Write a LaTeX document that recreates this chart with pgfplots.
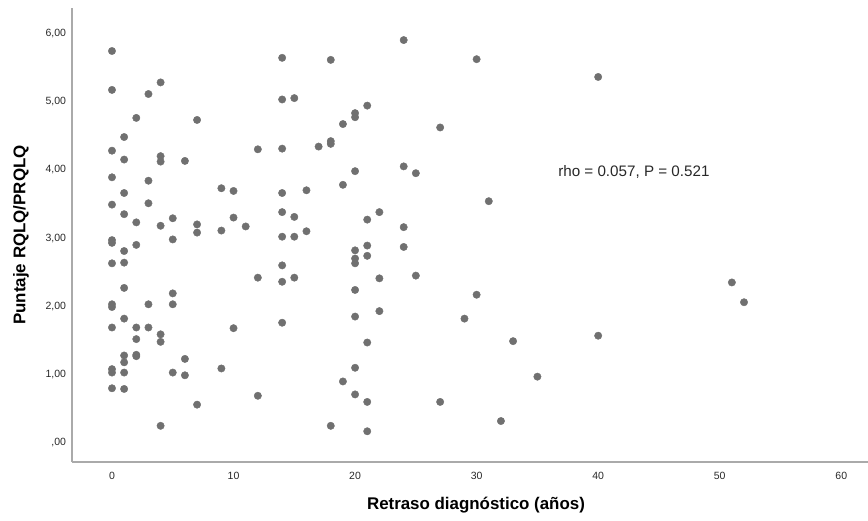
\documentclass[border=0pt]{standalone}
\usepackage{fontspec}
\setmainfont{Liberation Sans}
\usepackage{pgfplots}
\pgfplotsset{compat=1.18}

\definecolor{dotgray}{RGB}{112,112,112}
\definecolor{spinegray}{RGB}{170,170,170}
\definecolor{txtgray}{RGB}{40,40,40}

\begin{document}
\begin{tikzpicture}
\begin{axis}[
    scale only axis,
    width=796pt, height=454pt,
    xmin=-3.29, xmax=62.2,
    ymin=-0.28, ymax=6.37,
    axis x line*=bottom, axis y line*=left,
    axis line style={-, spinegray, line width=1.3pt},
    major tick length=0pt,
    xtick={0,10,20,30,40,50,60},
    ytick={0,1,2,3,4,5,6},
    yticklabels={{,00},{1,00},{2,00},{3,00},{4,00},{5,00},{6,00}},
    /pgf/number format/assume math mode=true,
    tick label style={font=\fontsize{10.5}{12}\selectfont, text=txtgray},
    xticklabel style={yshift=-6.5pt},
    yticklabel style={xshift=-2.5pt},
    xlabel={Retraso diagnóstico (años)},
    ylabel={Puntaje RQLQ/PRQLQ},
    label style={font=\bfseries\fontsize{16.9}{20}\selectfont},
    x label style={at={(axis description cs:0.5075,-0.0947)}, anchor=center},
    y label style={at={(axis description cs:-0.064,0.5)}, anchor=center},
    clip=false,
]
\addplot[only marks, mark=*, mark size=3.7pt, mark options={fill=dotgray, draw=dotgray}] coordinates {
(0,5.74) (0,5.17) (0,4.28) (0,3.89) (0,3.49) (0,2.97) (0,2.93) (0,2.63) (0,2.03) (0,1.99) (0,1.69) (0,1.08) (0,1.03) (0,0.80)
(1,4.48) (1,4.15) (1,3.66) (1,3.35) (1,2.81) (1,2.64) (1,2.27) (1,1.82) (1,1.28) (1,1.18) (1,1.03) (1,0.79)
(2,4.76) (2,3.23) (2,2.90) (2,1.69) (2,1.52) (2,1.29) (2,1.27)
(3,5.11) (3,3.84) (3,3.51) (3,2.03) (3,1.69)
(4,5.28) (4,4.20) (4,4.12) (4,3.18) (4,1.59) (4,1.48) (4,0.25)
(5,3.29) (5,2.98) (5,2.19) (5,2.03) (5,1.03)
(6,4.13) (6,1.23) (6,0.99)
(7,4.73) (7,3.20) (7,3.08) (7,0.56)
(9,3.73) (9,3.11) (9,1.09)
(10,3.69) (10,3.30) (10,1.68)
(11,3.17)
(12,4.30) (12,2.42) (12,0.69)
(14,5.64) (14,5.03) (14,4.31) (14,3.66) (14,3.38) (14,3.02) (14,2.60) (14,2.36) (14,1.76)
(15,5.05) (15,3.31) (15,3.02) (15,2.42)
(16,3.70) (16,3.10)
(17,4.34)
(18,5.61) (18,4.42) (18,4.38) (18,0.25)
(19,4.67) (19,3.78) (19,0.90)
(20,4.83) (20,4.77) (20,3.98) (20,2.82) (20,2.70) (20,2.63) (20,2.24) (20,1.85) (20,1.10) (20,0.71)
(21,4.94) (21,3.27) (21,2.89) (21,2.74) (21,1.47) (21,0.60) (21,0.17)
(22,3.38) (22,2.41) (22,1.93)
(24,5.90) (24,4.05) (24,3.16) (24,2.87)
(25,3.95) (25,2.45)
(27,4.62) (27,0.60)
(29,1.82)
(30,5.62) (30,2.17)
(31,3.54)
(32,0.32)
(33,1.49)
(35,0.97)
(40,5.36) (40,1.57)
(51,2.35)
(52,2.06)
};
\node[anchor=west, inner sep=0pt, text=txtgray, font=\fontsize{15.2}{18}\selectfont] at (axis cs:36.7,3.97) {rho = 0.057, P = 0.521};
\end{axis}
\pgfresetboundingbox
\useasboundingbox ([xshift=-72pt,yshift=-59pt]current axis.south west) rectangle ([yshift=8pt]current axis.north east);
\end{tikzpicture}
\end{document}
